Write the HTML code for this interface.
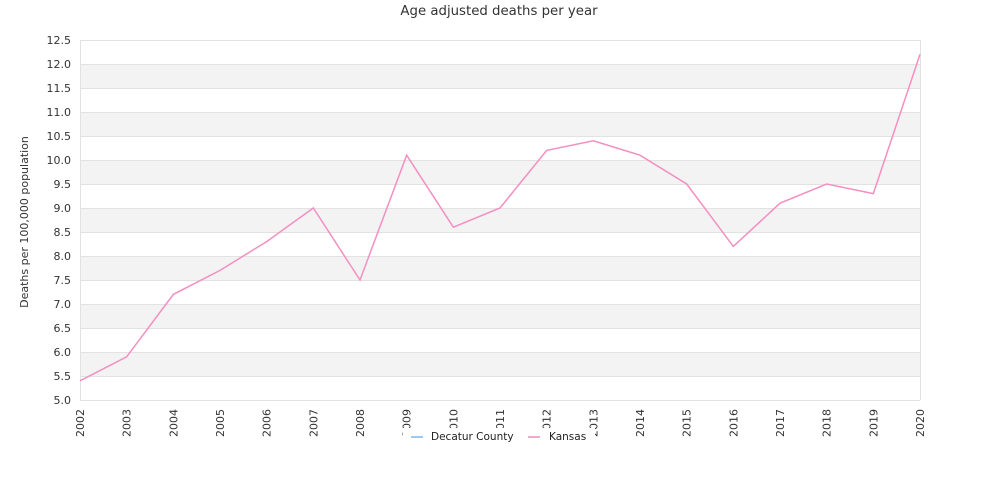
<!DOCTYPE html>
<html><head><meta charset="utf-8"><style>
body{margin:0;background:#fff;}
svg{display:block;font-family:"DejaVu Sans","Liberation Sans",sans-serif;}
</style></head><body>
<svg width="1000" height="500" viewBox="0 0 1000 500">
<rect width="1000" height="500" fill="#fff"/>
<text x="499" y="15" text-anchor="middle" font-size="13.3" fill="#333">Age adjusted deaths per year</text>
<g fill="#f3f3f3">
<rect x="80" y="64" width="840" height="24"/><rect x="80" y="112" width="840" height="24"/>
<rect x="80" y="160" width="840" height="24"/><rect x="80" y="208" width="840" height="24"/>
<rect x="80" y="256" width="840" height="24"/><rect x="80" y="304" width="840" height="24"/>
<rect x="80" y="352" width="840" height="24"/>
</g>
<g stroke="#e2e2e2" stroke-width="1">
<line x1="80" x2="920" y1="40.5" y2="40.5"/><line x1="80" x2="920" y1="64.5" y2="64.5"/><line x1="80" x2="920" y1="88.5" y2="88.5"/><line x1="80" x2="920" y1="112.5" y2="112.5"/><line x1="80" x2="920" y1="136.5" y2="136.5"/><line x1="80" x2="920" y1="160.5" y2="160.5"/><line x1="80" x2="920" y1="184.5" y2="184.5"/><line x1="80" x2="920" y1="208.5" y2="208.5"/><line x1="80" x2="920" y1="232.5" y2="232.5"/><line x1="80" x2="920" y1="256.5" y2="256.5"/><line x1="80" x2="920" y1="280.5" y2="280.5"/><line x1="80" x2="920" y1="304.5" y2="304.5"/><line x1="80" x2="920" y1="328.5" y2="328.5"/><line x1="80" x2="920" y1="352.5" y2="352.5"/><line x1="80" x2="920" y1="376.5" y2="376.5"/><line x1="80" x2="920" y1="400.5" y2="400.5"/>
<line x1="80.5" x2="80.5" y1="40" y2="400"/><line x1="920.5" x2="920.5" y1="40" y2="400"/>
</g>
<g font-size="11" fill="#333" text-anchor="end">
<text x="71" y="44">12.5</text><text x="71" y="68">12.0</text><text x="71" y="92">11.5</text><text x="71" y="116">11.0</text><text x="71" y="140">10.5</text><text x="71" y="164">10.0</text><text x="71" y="188">9.5</text><text x="71" y="212">9.0</text><text x="71" y="236">8.5</text><text x="71" y="260">8.0</text><text x="71" y="284">7.5</text><text x="71" y="308">7.0</text><text x="71" y="332">6.5</text><text x="71" y="356">6.0</text><text x="71" y="380">5.5</text><text x="71" y="404">5.0</text>
</g>
<text transform="translate(28,222) rotate(-90)" text-anchor="middle" font-size="11" fill="#333">Deaths per 100,000 population</text>
<g font-size="11" fill="#333" text-anchor="end">
<text transform="translate(84,409) rotate(-90)">2002</text>
<text transform="translate(130.67,409) rotate(-90)">2003</text>
<text transform="translate(177.33,409) rotate(-90)">2004</text>
<text transform="translate(224,409) rotate(-90)">2005</text>
<text transform="translate(270.67,409) rotate(-90)">2006</text>
<text transform="translate(317.33,409) rotate(-90)">2007</text>
<text transform="translate(364,409) rotate(-90)">2008</text>
<text transform="translate(410.67,409) rotate(-90)">2009</text>
<text transform="translate(457.33,409) rotate(-90)">2010</text>
<text transform="translate(504,409) rotate(-90)">2011</text>
<text transform="translate(550.67,409) rotate(-90)">2012</text>
<text transform="translate(597.33,409) rotate(-90)">2013</text>
<text transform="translate(644,409) rotate(-90)">2014</text>
<text transform="translate(690.67,409) rotate(-90)">2015</text>
<text transform="translate(737.33,409) rotate(-90)">2016</text>
<text transform="translate(784,409) rotate(-90)">2017</text>
<text transform="translate(830.67,409) rotate(-90)">2018</text>
<text transform="translate(877.33,409) rotate(-90)">2019</text>
<text transform="translate(924,409) rotate(-90)">2020</text>
</g>
<polyline fill="none" stroke="#f48fc1" stroke-width="1.5" points="80,380.8 126.67,356.8 173.33,294.4 220,270.4 266.67,241.6 313.33,208 360,280 406.67,155.2 453.33,227.2 500,208 546.67,150.4 593.33,140.8 640,155.2 686.67,184 733.33,246.4 780,203.2 826.67,184 873.33,193.6 920,54.4"/>
<rect x="403" y="428" width="192" height="17" fill="#fff"/>
<line x1="411" x2="423" y1="437" y2="437" stroke="#9ec9ef" stroke-width="2"/>
<text x="431" y="440" font-size="10.5" fill="#222">Decatur County</text>
<line x1="528" x2="540" y1="437" y2="437" stroke="#f4a8cc" stroke-width="2"/>
<text x="549" y="440" font-size="10.5" fill="#222">Kansas</text>
</svg>
</body></html>
